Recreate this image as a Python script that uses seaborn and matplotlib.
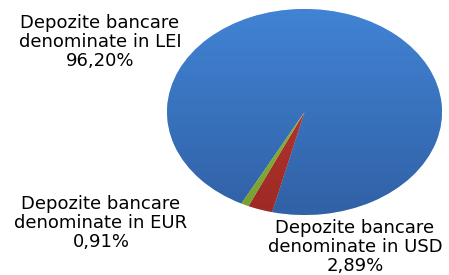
import numpy as np
import seaborn as sns
import matplotlib.pyplot as plt
from matplotlib.colors import LinearSegmentedColormap

# deposit shares by currency (%)
currencies = ["LEI", "USD", "EUR"]
shares = [96.20, 2.89, 0.91]
top_colors = ["#4183d4", "#c63c32", "#97c043"]
bottom_colors = ["#3161a6", "#9c2a25", "#78a030"]

sns.set_theme(style="white")
plt.rcParams['font.family'] = ['DejaVu Sans']

fig = plt.figure(figsize=(4.49, 2.75), dpi=100)
# pie is squashed into an ellipse like the reference
ax = fig.add_axes([167 / 449, 1 - 215 / 275, 275 / 449, 206 / 275])

wedges, _ = ax.pie(shares, startangle=-117.3, counterclock=False,
                   colors=top_colors, radius=1,
                   wedgeprops=dict(edgecolor="white", linewidth=0.4))
ax.set_aspect('auto')

# vertical gradient inside each slice
grad = np.linspace(1, 0, 256).reshape(-1, 1)
for w, c1, c2 in zip(wedges, top_colors, bottom_colors):
    cmap = LinearSegmentedColormap.from_list("g", [c2, c1])
    im = ax.imshow(grad, cmap=cmap, extent=(-1, 1, -1, 1), aspect='auto',
                   origin='upper', zorder=w.get_zorder() + 0.1)
    im.set_clip_path(w)
ax.set_xlim(-1, 1)
ax.set_ylim(-1, 1)
ax.axis('off')

label_pos = {"LEI": (100, 42), "USD": (355, 247), "EUR": (101, 223)}
for cur, val in zip(currencies, shares):
    x, y = label_pos[cur]
    txt = "Depozite bancare\ndenominate in " + cur + "\n" + f"{val:.2f}".replace('.', ',') + "%"
    fig.text(x / 449, 1 - y / 275, txt, ha='center', va='center',
             multialignment='center', fontsize=13, color='black',
             linespacing=1.1)

fig.savefig("out.png", dpi=100)
